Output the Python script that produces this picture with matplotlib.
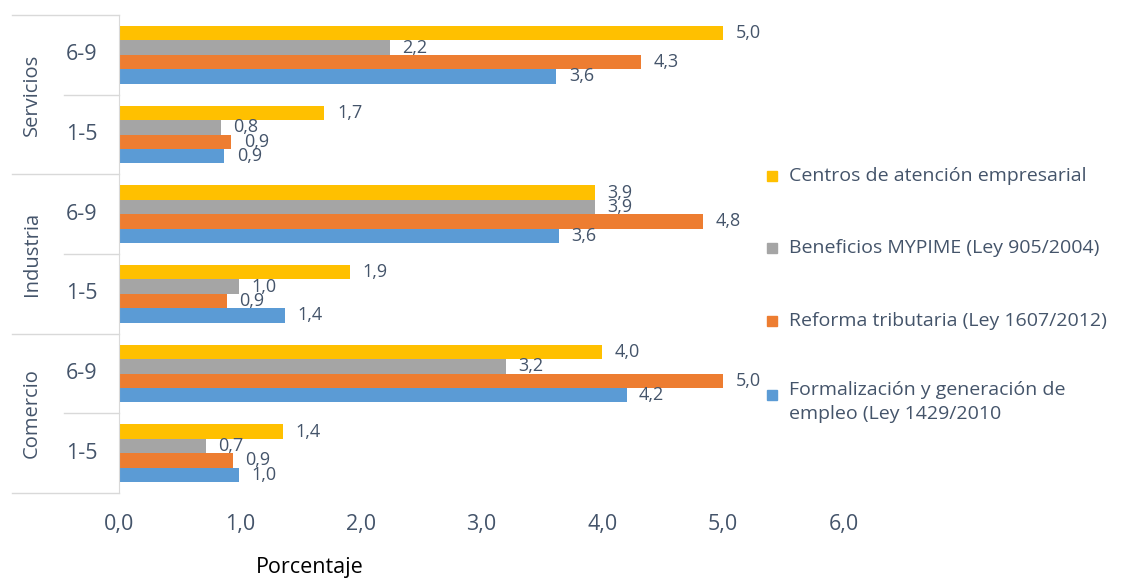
import matplotlib
matplotlib.use("Agg")
import matplotlib.pyplot as plt
from matplotlib.patches import Rectangle
from matplotlib.lines import Line2D
import numpy as np

plt.rcParams['font.family'] = ['Open Sans', 'DejaVu Sans']

# groups from bottom to top
sectors = ["Comercio", "Industria", "Servicios"]
sizes = ["1-5", "6-9"]

# series, in drawing order from bottom of each group to top
series = [
    "Formalización y generación de\nempleo (Ley 1429/2010",
    "Reforma tributaria (Ley 1607/2012)",
    "Beneficios MYPIME (Ley 905/2004)",
    "Centros de atención empresarial",
]
colors = ["#5B9BD5", "#ED7D31", "#A5A5A5", "#FFC000"]

# values per group: Comercio 1-5, Comercio 6-9, Industria 1-5, Industria 6-9, Servicios 1-5, Servicios 6-9
formalizacion = [0.99, 4.2, 1.37, 3.64, 0.87, 3.62]
reforma = [0.94, 5.0, 0.89, 4.83, 0.93, 4.32]
beneficios = [0.72, 3.2, 0.99, 3.94, 0.84, 2.24]
centros = [1.36, 4.0, 1.91, 3.94, 1.7, 5.0]
values = [formalizacion, reforma, beneficios, centros]

text_col = "#44546A"
line_col = "#D9D9D9"

W, H = 1144, 578
fig = plt.figure(figsize=(W / 100, H / 100), dpi=100)
ax = fig.add_axes([119 / W, 1 - 493 / H, (844 - 119) / W, (493 - 15) / H])

n_groups = len(sectors) * len(sizes)
y = np.arange(n_groups)
bh = 0.18
for i, (vals, col) in enumerate(zip(values, colors)):
    pos = y + (i - 1.5) * bh
    ax.barh(pos, vals, height=bh, color=col)
    for p, v in zip(pos, vals):
        ax.annotate(f"{v:.1f}".replace(".", ","), (v, p), xytext=(9, 0),
                    textcoords="offset points", va="center", ha="left",
                    fontsize=13, color=text_col)

ax.set_xlim(0, 6)
ax.set_ylim(-0.5, n_groups - 0.5)
ax.set_xticks(np.arange(0, 7))
ax.set_xticklabels([f"{t:.1f}".replace(".", ",") for t in range(7)],
                   fontsize=15.5, color=text_col)
ax.tick_params(axis="x", length=0, pad=15)
ax.set_yticks([])
for s in ["top", "right", "bottom"]:
    ax.spines[s].set_visible(False)
ax.spines["left"].set_color(line_col)

# category labels and separators
for k in range(n_groups):
    ax.text(-37 / 725 * 6, k, sizes[k % 2], ha="center", va="center",
            fontsize=15.5, color=text_col, clip_on=False)
for j, sec in enumerate(sectors):
    ax.text(-87 / 725 * 6, 2 * j + 0.5, sec, rotation=90, ha="center",
            va="center", fontsize=14.5, color=text_col, clip_on=False)
for b in range(n_groups + 1):
    x0 = 12 if b % 2 == 0 else 64
    fy = ax.transData.transform((0, b - 0.5))[1] / H
    fig.add_artist(Line2D([x0 / W, 119 / W], [fy, fy], color=line_col, lw=1))

fig.text(310 / W, 1 - 568 / H, "Porcentaje", ha="center", va="center",
         fontsize=15.5, color="#000000")

# legend
leg_y = [176, 248, 321, 395]
for lab, col, ly in zip(series[::-1], colors[::-1], leg_y):
    fig.add_artist(Rectangle((767 / W, 1 - (ly + 5) / H), 10 / W, 10 / H,
                             color=col, transform=fig.transFigure))
    if "\n" in lab:
        fig.text(789 / W, 1 - (ly - 14) / H, lab, ha="left", va="top",
                 fontsize=14, color=text_col, linespacing=1.4)
    else:
        fig.text(789 / W, 1 - ly / H, lab, ha="left", va="center",
                 fontsize=14, color=text_col)

fig.savefig("out.png", dpi=100)
